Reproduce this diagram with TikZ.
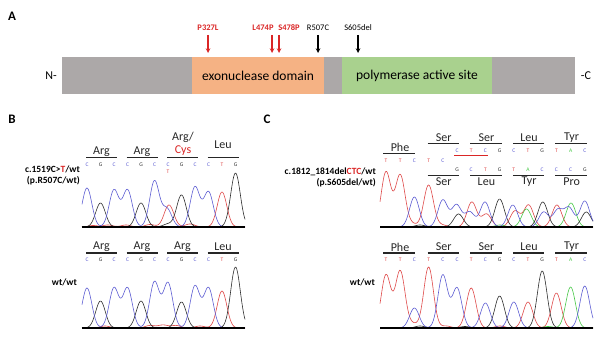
\documentclass[tikz,border=0pt]{standalone}
\usepackage{fontspec}
\setmainfont{Carlito}
\usetikzlibrary{positioning}
\definecolor{mutred}{RGB}{218,38,38}
\definecolor{exoorange}{RGB}{245,178,132}
\definecolor{polgreen}{RGB}{169,209,142}
\definecolor{bargray}{RGB}{172,168,168}
\definecolor{baseC}{RGB}{92,92,210}
\definecolor{baseG}{RGB}{45,45,45}
\definecolor{baseT}{RGB}{222,72,72}
\definecolor{baseA}{RGB}{70,200,70}
\begin{document}
\begin{tikzpicture}[x=1pt,y=-1pt,>=stealth,
  declare function={pk(\q,\m,\a)=\a*exp(-((\q-\m)/6.8)*((\q-\m)/6.8));},
  trace/.style={line width=0.6pt},
  chrombase/.style={line width=1.8pt, black},
  codonbar/.style={line width=1.2pt, black!85},
  aalbl/.style={font=\fontsize{12}{13}\selectfont, inner sep=0pt, text=black!85},
  baselbl/.style={font=\fontsize{5.5}{6}\selectfont, inner sep=0pt},
  samplelbl/.style={font=\bfseries\fontsize{9.5}{11}\selectfont, align=right, inner sep=0pt, anchor=east},
  panellbl/.style={font=\bfseries\fontsize{13}{14}\selectfont, inner sep=0pt},
  mutlbl/.style={font=\fontsize{8.5}{9}\selectfont, inner sep=0pt},
  mutarrow/.style={->, line width=1.1pt},
  domainbox/.style={minimum height=37pt, inner sep=0pt, font=\fontsize{13.5}{14}\selectfont}]
\useasboundingbox (0,0) rectangle (600,337);

% A: protein bar
\node[panellbl] (lblA) at (12,16) {A};
\fill[bargray] (62,57) rectangle (575,94);
\node[domainbox, fill=exoorange, minimum width=132pt] (exo) at (258,75.5) {exonuclease domain};
\node[domainbox, fill=polgreen, minimum width=150pt] (pol) at (417,75.5) {polymerase active site};
\node[font=\fontsize{12}{13}\selectfont, inner sep=0pt] (nterm) at (51,75.5) {N-};
\node[font=\fontsize{12}{13}\selectfont, inner sep=0pt] (cterm) at (586,75.5) {-C};
\node[mutlbl, font=\bfseries\fontsize{8.5}{9}\selectfont, text=mutred] (p327) at (208,28) {P327L};
\node[mutlbl, font=\bfseries\fontsize{8.5}{9}\selectfont, text=mutred] (l474) at (263,28) {L474P};
\node[mutlbl, font=\bfseries\fontsize{8.5}{9}\selectfont, text=mutred] (s478) at (289,28) {S478P};
\node[mutlbl] (r507) at (318,28) {R507C};
\node[mutlbl] (s605) at (358,28) {S605del};
\foreach \n/\ax/\col in {p327/208/mutred, l474/272/mutred, s478/279/mutred, r507/318/black, s605/358/black}{
  \coordinate (\n-top) at (\ax,35);
  \coordinate (\n-tip) at (\ax,53);
  \draw[mutarrow, draw=\col] (\n-top) -- (\n-tip);
}

% B: c.1519C>T
\node[panellbl] (lblB) at (12,119) {B};
\node[samplelbl] (bmut) at (80,175) {c.1519C>{\color{mutred}T}/wt\\(p.R507C/wt)};
\foreach \s in {0,3,6,9}
  \draw[codonbar] ({87+13.5*\s-1},157.5) -- ({87+13.5*(\s+2)+3},157.5);
\node[aalbl] (btaa1) at (101.5,152) {Arg};
\node[aalbl] (btaa2) at (142,152) {Arg};
\node[aalbl] (btaa3) at (183,137.5) {Arg/};
\node[aalbl, text=mutred] (btaa3b) at (183,150.5) {Cys};
\node[aalbl] (btaa4) at (223,144.5) {Leu};
\foreach \b [count=\k from 0] in {C,G,C,C,G,C,C,G,C,C,T,G}
  \node[baselbl, text=base\b] (btb\k) at ({87+13.5*\k},164.5) {\b};
\node[baselbl, text=baseT] (btbx) at (168,172) {T};
\draw[trace, baseT] plot[domain=82:245, samples=200] (\x,{227-pk(\x,169,22)-pk(\x,222,35)-pk(\x,108,2)-pk(\x,126,2)-pk(\x,150,2.5)-pk(\x,190,3)-pk(\x,93,1.5)});
\draw[trace, baseG] plot[domain=82:245, samples=200] (\x,{227-pk(\x,100.5,24)-pk(\x,141,24)-pk(\x,181.5,32)-pk(\x,235.5,54)-pk(\x,168,3)});
\draw[trace, baseC] plot[domain=82:245, samples=200] (\x,{227-pk(\x,87,39)-pk(\x,114,37)-pk(\x,127.5,37)-pk(\x,154.5,46)-pk(\x,167,18)-pk(\x,195,40)-pk(\x,208.5,35)});
\draw[chrombase] (82,227) -- (245,227);

% B: wild type
\node[samplelbl] (bwt) at (77,282) {wt/wt};
\foreach \s/\aa in {0/Arg,3/Arg,6/Arg,9/Leu}{
  \draw[codonbar] ({87+13.5*\s-1},253) -- ({87+13.5*(\s+2)+3},253);
  \node[aalbl] (bwaa\s) at ({87+13.5*(\s+1)+1},247) {\aa};
}
\foreach \b [count=\k from 0] in {C,G,C,C,G,C,C,G,C,C,T,G}
  \node[baselbl, text=base\b] (bwb\k) at ({87+13.5*\k},260) {\b};
\draw[trace, baseT] plot[domain=82:245, samples=200] (\x,{328-pk(\x,222,37)-pk(\x,105,2)-pk(\x,150,2.5)-pk(\x,163,3)-pk(\x,176,2.5)-pk(\x,200,2)});
\draw[trace, baseG] plot[domain=82:245, samples=200] (\x,{328-pk(\x,100.5,27)-pk(\x,141,27)-pk(\x,181.5,26)-pk(\x,235.5,61)});
\draw[trace, baseC] plot[domain=82:245, samples=200] (\x,{328-pk(\x,87,40)-pk(\x,114,40)-pk(\x,127.5,40)-pk(\x,154.5,46)-pk(\x,168,45)-pk(\x,195,42)-pk(\x,208.5,40)});
\draw[chrombase] (82,328) -- (245,328);

% C: c.1812_1814delCTC
\node[panellbl] (lblC) at (267,119) {C};
\node[samplelbl] (cmut) at (376,177) {c.1812\_1814del{\color{mutred}CTC}/wt\\(p.S605del/wt)};
\draw[codonbar] (383,153.5) -- (415.4,153.5);
\node[aalbl] (ctaa0) at (400,147.5) {Phe};
\foreach \b [count=\k from 0] in {T,T,C,T,C}
  \node[baselbl, text=base\b] (ctb\k) at ({386+14.2*\k},160.5) {\b};
\foreach \s/\up/\dn in {3/Ser/Ser,6/Ser/Leu,9/Leu/Tyr,12/Tyr/Pro}{
  \draw[codonbar] ({386+14.2*\s-1},143.5) -- ({386+14.2*(\s+2)+2},143.5);
  \draw[codonbar] ({386+14.2*\s-1},175.5) -- ({386+14.2*(\s+2)+2},175.5);
  \node[aalbl] (ctup\s) at ({386+14.2*(\s+1)+1},137.5) {\up};
  \node[aalbl] (ctdn\s) at ({386+14.2*(\s+1)+1},182) {\dn};
}
\foreach \b [count=\k from 5] in {C,T,C,G,C,T,G,T,A,C}
  \node[baselbl, text=base\b] (ctu\k) at ({386+14.2*\k},151) {\b};
\foreach \b [count=\k from 5] in {G,C,T,G,T,A,C,C,C,G}
  \node[baselbl, text=base\b] (ctd\k) at ({386+14.2*\k},169.5) {\b};
\draw[line width=1.1pt, mutred] (454,155.5) -- (488,155.5);
\draw[trace, baseT] plot[domain=380:593, samples=260] (\x,{227-pk(\x,386,55)-pk(\x,400.2,52)-pk(\x,428.6,42)-pk(\x,471.8,25)-pk(\x,486.5,13)-pk(\x,515,16)-pk(\x,528.6,22)-pk(\x,556.9,22)-pk(\x,412,3)-pk(\x,442,2)});
\draw[trace, baseA] plot[domain=380:593, samples=260] (\x,{227-pk(\x,526.5,18)-pk(\x,571,24)-pk(\x,500,2)});
\draw[trace, baseG] plot[domain=380:593, samples=260] (\x,{227-pk(\x,458.5,13)-pk(\x,499.6,28)-pk(\x,542.8,25)-pk(\x,586.3,15)-pk(\x,420,2)});
\draw[trace, baseC] plot[domain=380:593, samples=260] (\x,{227-pk(\x,414.4,30)-pk(\x,442.8,27)-pk(\x,456.5,22)-pk(\x,469.7,15)-pk(\x,485,25)-pk(\x,512.8,22)-pk(\x,543.7,15)-pk(\x,557.9,17)-pk(\x,569.1,19)-pk(\x,584.8,26)});
\draw[chrombase] (380,227) -- (593,227);

% C: wild type
\node[samplelbl] (cwt) at (375,282) {wt/wt};
\draw[codonbar] (383,253) -- (415.4,253);
\node[aalbl] (cwaa0) at (400,247) {Phe};
\foreach \s/\aa in {3/Ser,6/Ser,9/Leu,12/Tyr}{
  \draw[codonbar] ({386+14.2*\s-1},253) -- ({386+14.2*(\s+2)+2},253);
  \node[aalbl] (cwaa\s) at ({386+14.2*(\s+1)+1},247) {\aa};
}
\foreach \b [count=\k from 0] in {T,T,C,T,C,C,T,C,G,C,T,G,T,A,C}
  \node[baselbl, text=base\b] (cwb\k) at ({386+14.2*\k},260) {\b};
\draw[trace, baseT] plot[domain=380:593, samples=260] (\x,{328-pk(\x,386,53)-pk(\x,400.2,57)-pk(\x,428.6,61)-pk(\x,471.2,40)-pk(\x,528,26)-pk(\x,556.4,35)-pk(\x,413,4)-pk(\x,446,2)-pk(\x,500,2)});
\draw[trace, baseA] plot[domain=380:593, samples=260] (\x,{328-pk(\x,570.6,41)-pk(\x,548,1.5)});
\draw[trace, baseG] plot[domain=380:593, samples=260] (\x,{328-pk(\x,499.6,32)-pk(\x,542.2,57)-pk(\x,420,2)-pk(\x,465,1.5)});
\draw[trace, baseC] plot[domain=380:593, samples=260] (\x,{328-pk(\x,414.4,20)-pk(\x,442.8,53)-pk(\x,457,40)-pk(\x,485.4,25)-pk(\x,513.8,26)-pk(\x,584.8,42)});
\draw[chrombase] (380,328) -- (593,328);
\end{tikzpicture}
\end{document}
